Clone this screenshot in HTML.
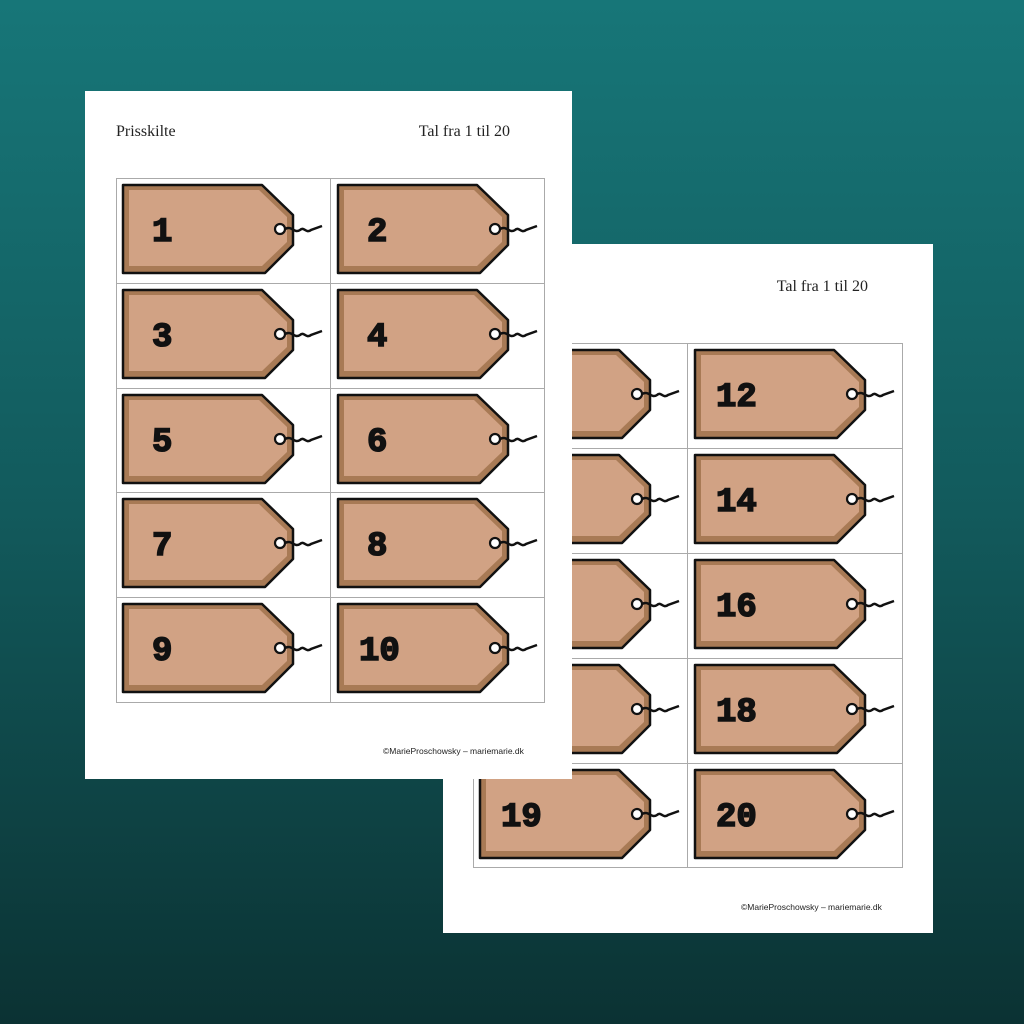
<!DOCTYPE html>
<html><head><meta charset="utf-8"><style>
html,body{margin:0;padding:0;width:1024px;height:1024px;overflow:hidden}
body{background:linear-gradient(180deg,#177678 0%,#125a5c 50%,#0b3233 100%)}
svg{display:block}
.num{font-family:"Liberation Mono",monospace;font-weight:bold;font-size:34px;fill:#111;stroke:#111;stroke-width:1.6px}
.hd{font-family:"Liberation Serif",serif;font-size:16px;fill:#222}
.ft{font-family:"Liberation Sans",sans-serif;font-size:8.5px;fill:#222}
</style></head><body>
<svg width="1024" height="1024" viewBox="0 0 1024 1024">
<defs>
<g id="tag">
<polygon points="7,7 146,7 177,37 177,67 149,95 7,95" fill="#a87a55" stroke="#111" stroke-width="2.5" stroke-linejoin="round"/>
<polygon points="13,12 143,12 171,39 171,64 146,88 13,88" fill="#d1a284"/>
<circle cx="164" cy="51" r="5" fill="#fff" stroke="#111" stroke-width="2.2"/>
<path d="M169,51 C176,47 178,56 184,52 C188,48 190,56 195,52 L206,48" fill="none" stroke="#111" stroke-width="2.5"/>
</g>
</defs>
<rect x="443" y="244" width="490" height="689" fill="#fff"/>
<text class="hd" x="868" y="291" text-anchor="end">Tal fra 1 til 20</text>
<g stroke="#aaa" stroke-width="1" fill="none">
<rect x="473.5" y="343.5" width="429" height="524"/>
<line x1="687.5" y1="343" x2="687.5" y2="868"/>
<line x1="473" y1="448.5" x2="903" y2="448.5"/>
<line x1="473" y1="553.5" x2="903" y2="553.5"/>
<line x1="473" y1="658.5" x2="903" y2="658.5"/>
<line x1="473" y1="763.5" x2="903" y2="763.5"/>
</g>
<g transform="translate(473,343)"><use href="#tag"/></g>
<g transform="translate(473,448)"><use href="#tag"/></g>
<g transform="translate(473,553)"><use href="#tag"/></g>
<g transform="translate(473,658)"><use href="#tag"/></g>
<g transform="translate(473,763)"><use href="#tag"/><text class="num" x="28" y="63">19</text></g>
<g transform="translate(688,343)"><use href="#tag"/><text class="num" x="28" y="63">12</text></g>
<g transform="translate(688,448)"><use href="#tag"/><text class="num" x="28" y="63">14</text></g>
<g transform="translate(688,553)"><use href="#tag"/><text class="num" x="28" y="63">16</text></g>
<g transform="translate(688,658)"><use href="#tag"/><text class="num" x="28" y="63">18</text></g>
<g transform="translate(688,763)"><use href="#tag"/><text class="num" x="28" y="63">20</text></g>
<text class="ft" x="741" y="910">©MarieProschowsky – mariemarie.dk</text>
<rect x="85" y="91" width="487" height="688" fill="#fff"/>
<text class="hd" x="116" y="136">Prisskilte</text>
<text class="hd" x="510" y="136" text-anchor="end">Tal fra 1 til 20</text>
<g stroke="#aaa" stroke-width="1" fill="none">
<rect x="116.5" y="178.5" width="428" height="524"/>
<line x1="330.5" y1="178" x2="330.5" y2="703"/>
<line x1="116" y1="283.5" x2="545" y2="283.5"/>
<line x1="116" y1="388.5" x2="545" y2="388.5"/>
<line x1="116" y1="492.5" x2="545" y2="492.5"/>
<line x1="116" y1="597.5" x2="545" y2="597.5"/>
</g>
<g transform="translate(116,178)"><use href="#tag"/><text class="num" x="36" y="63">1</text></g>
<g transform="translate(331,178)"><use href="#tag"/><text class="num" x="36" y="63">2</text></g>
<g transform="translate(116,283)"><use href="#tag"/><text class="num" x="36" y="63">3</text></g>
<g transform="translate(331,283)"><use href="#tag"/><text class="num" x="36" y="63">4</text></g>
<g transform="translate(116,388)"><use href="#tag"/><text class="num" x="36" y="63">5</text></g>
<g transform="translate(331,388)"><use href="#tag"/><text class="num" x="36" y="63">6</text></g>
<g transform="translate(116,492)"><use href="#tag"/><text class="num" x="36" y="63">7</text></g>
<g transform="translate(331,492)"><use href="#tag"/><text class="num" x="36" y="63">8</text></g>
<g transform="translate(116,597)"><use href="#tag"/><text class="num" x="36" y="63">9</text></g>
<g transform="translate(331,597)"><use href="#tag"/><text class="num" x="28" y="63">10</text></g>
<text class="ft" x="383" y="754">©MarieProschowsky – mariemarie.dk</text>
</svg>
</body></html>
